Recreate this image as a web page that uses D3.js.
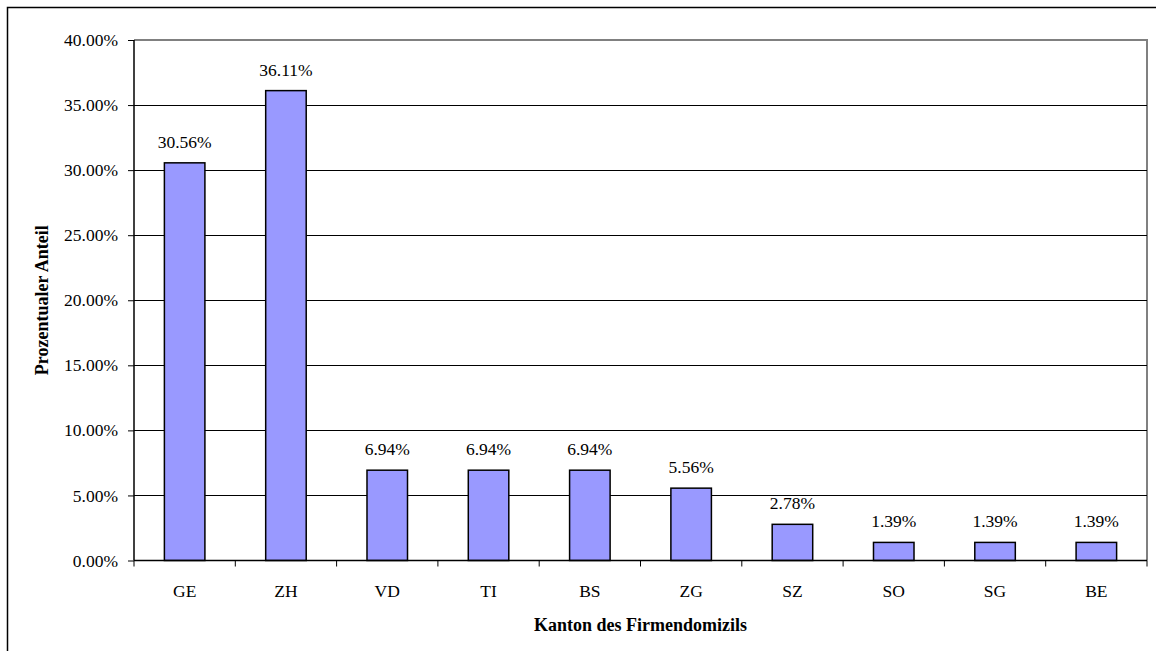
<!DOCTYPE html>
<html><head><meta charset="utf-8">
<script src="https://cdn.jsdelivr.net/npm/d3@7"></script>
<style>body{margin:0;background:#fff}svg{display:block}
svg text{font-family:"Liberation Serif","Times New Roman",Times,"DejaVu Serif",serif !important;fill:#000}
</style>
</head><body>
<script>
const categories = ["GE","ZH","VD","TI","BS","ZG","SZ","SO","SG","BE"];
const values = [30.56,36.11,6.94,6.94,6.94,5.56,2.78,1.39,1.39,1.39];
const yTicks = [0,5,10,15,20,25,30,35,40];
const xTitle = "Kanton des Firmendomizils";
const yTitle = "Prozentualer Anteil";

const W = 1156, H = 651;
const m = {left:134, top:40, right:1147, bottom:560.5};
const fs = 17.5, tfs = 18;

const svg = d3.select("body").append("svg").attr("width",W).attr("height",H);
svg.append("rect").attr("x",7.5).attr("y",7.5).attr("width",W+10).attr("height",H+10)
  .attr("fill","#fff").attr("stroke","#000").attr("stroke-width",1.5);

const x = d3.scaleBand().domain(categories).range([m.left,m.right]).paddingInner(0.6).paddingOuter(0.3);
const xb = d3.scaleBand().domain(categories).range([m.left,m.right]);
const y = d3.scaleLinear().domain([0,40]).range([m.bottom,m.top]);

svg.append("path").attr("d",`M${m.left},${m.top}H${m.right}V${m.bottom}`)
  .attr("fill","none").attr("stroke","#808080").attr("stroke-width",2);

svg.append("g").selectAll("line").data(yTicks.filter(d=>d>0&&d<40)).join("line")
  .attr("x1",m.left).attr("x2",m.right).attr("y1",d=>Math.round(y(d))+0.5).attr("y2",d=>Math.round(y(d))+0.5)
  .attr("stroke","#000").attr("stroke-width",1);

svg.append("g").selectAll("rect").data(values).join("rect")
  .attr("x",(d,i)=>x(categories[i])).attr("width",x.bandwidth())
  .attr("y",d=>y(d)).attr("height",d=>y(0)-y(d))
  .attr("fill","#9999FF").attr("stroke","#000").attr("stroke-width",1.5);

svg.append("g").selectAll("text").data(values).join("text")
  .attr("x",(d,i)=>x(categories[i])+x.bandwidth()/2).attr("y",d=>y(d)-15)
  .attr("text-anchor","middle").attr("font-size",fs)
  .text(d=>d.toFixed(2)+"%");

const yAxis = d3.axisLeft(y).tickValues(yTicks).tickSize(6).tickPadding(10).tickFormat(d=>d.toFixed(2)+"%");
const gy = svg.append("g").attr("transform",`translate(${m.left},0)`).call(yAxis);
gy.attr("font-family",null).attr("font-size",null);
gy.select(".domain").attr("stroke","#000").attr("stroke-width",1.5).attr("d",`M0,${m.top}V${m.bottom}`);
gy.selectAll(".tick line").attr("stroke","#000");
gy.selectAll("text").attr("font-size",fs);

const gx = svg.append("g").attr("transform",`translate(0,${m.bottom})`).call(
  d3.axisBottom(xb).tickSize(0).tickPadding(0));
gx.attr("font-family",null).attr("font-size",null);
gx.select(".domain").attr("stroke","#000").attr("stroke-width",1.5).attr("d",`M${m.left},0H${m.right}`);
gx.selectAll("text").attr("font-size",fs).attr("dy",0).attr("y",36);
svg.append("g").selectAll("line").data(categories.concat(["_end"])).join("line")
  .attr("x1",(d,i)=> i<categories.length ? xb(d) : m.right)
  .attr("x2",(d,i)=> i<categories.length ? xb(d) : m.right)
  .attr("y1",m.bottom).attr("y2",m.bottom+6).attr("stroke","#000").attr("stroke-width",1);

svg.append("text").attr("x",(m.left+m.right)/2).attr("y",631).attr("text-anchor","middle")
  .attr("font-weight","bold").attr("font-size",tfs).text(xTitle);
svg.append("text").attr("transform",`translate(48,${(m.top+m.bottom)/2}) rotate(-90)`).attr("text-anchor","middle")
  .attr("font-weight","bold").attr("font-size",tfs).text(yTitle);
</script>
</body></html>
